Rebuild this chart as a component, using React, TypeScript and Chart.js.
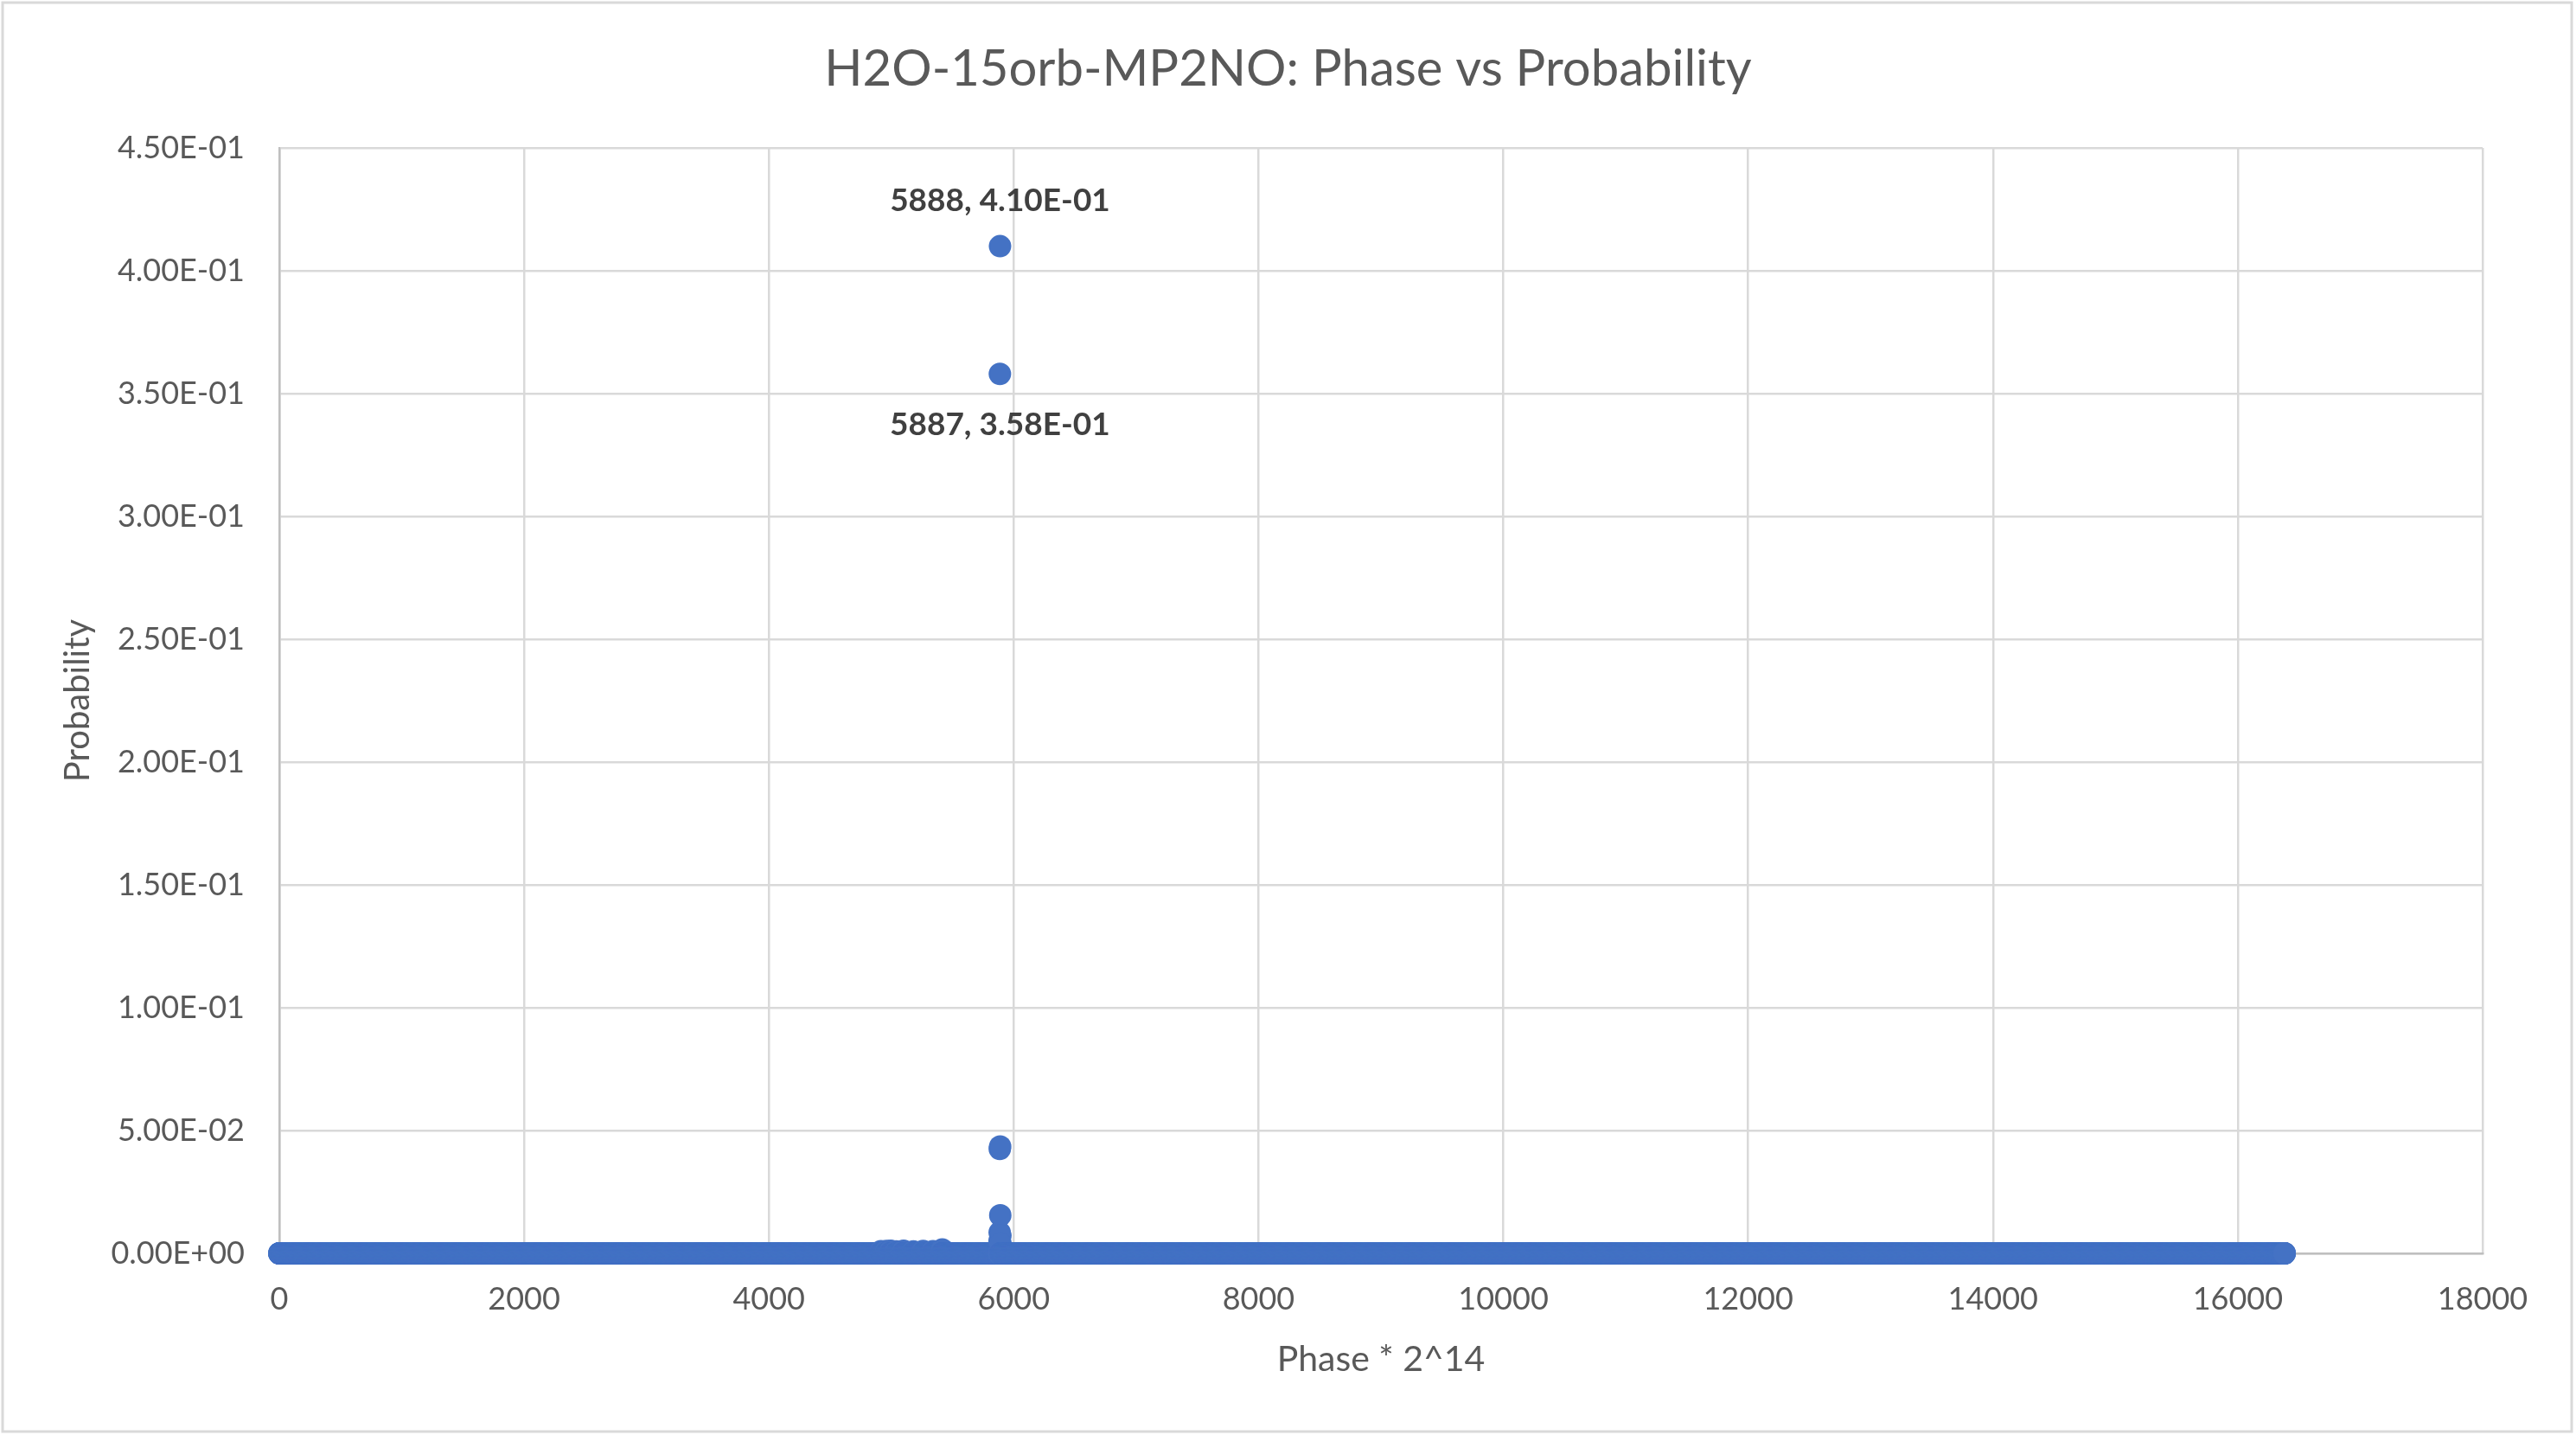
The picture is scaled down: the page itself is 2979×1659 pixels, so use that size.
import { useEffect, useRef } from 'react'
import { Chart, registerables, type Plugin } from 'chart.js'

Chart.register(...registerables)

const W = 2979
const H = 1659

// phase register is 14 bits -> phases 0 .. 2^14-1; every phase not listed below reads as ~0
const PHASE_BITS = 14
// notable phases and the probabilities
const PEAK_PHASES = [4915, 4960, 4995, 5040, 5100, 5180, 5260, 5340, 5416, 5884, 5885, 5886, 5887, 5888, 5889, 5890, 5891, 5892]
const PEAK_PROBS = [0.0009, 0.001, 0.0011, 0.0008, 0.0011, 0.0008, 0.001, 0.0009, 0.0016, 0.005, 0.0085, 0.0425, 0.358, 0.41, 0.0435, 0.0155, 0.0072, 0.004]
// the two points Excel labelled
const LABELLED = [5888, 5887]
const LABEL_SIDE = ['above', 'below']

const TITLE = 'H2O-15orb-MP2NO: Phase vs Probability'
const X_MAX = 18000
const X_STEP = 2000
const Y_MAX = 0.45
const Y_STEP = 0.05

const BLUE = '#4472C4'
const GRID = '#D9D9D9'
const TEXT = '#595959'

function sci(v: number) {
  if (Math.abs(v) < 1e-12) return '0.00E+00'
  const [m, e] = v.toExponential(2).split('e')
  const n = parseInt(e, 10)
  return `${m}E${n < 0 ? '-' : '+'}${String(Math.abs(n)).padStart(2, '0')}`
}

function buildPoints() {
  const lookup = new Map<number, number>()
  PEAK_PHASES.forEach((p, i) => lookup.set(p, PEAK_PROBS[i]))
  const n = 2 ** PHASE_BITS
  const pts: { x: number; y: number }[] = []
  for (let p = 0; p < n; p++) pts.push({ x: p, y: lookup.get(p) ?? 0 })
  return pts
}

// white background, outer chart border and the centred chart title
const frame: Plugin = {
  id: 'frame',
  beforeDraw(chart) {
    const { ctx } = chart
    ctx.save()
    ctx.fillStyle = '#fff'
    ctx.fillRect(0, 0, chart.width, chart.height)
    ctx.strokeStyle = GRID
    ctx.lineWidth = 3
    ctx.strokeRect(3, 3, chart.width - 8, chart.height - 7)
    ctx.font = '58px Lato'
    ctx.fillStyle = TEXT
    ctx.textAlign = 'center'
    ctx.textBaseline = 'middle'
    ctx.fillText(TITLE, chart.width / 2, 80)
    ctx.restore()
  },
}

const pointLabels: Plugin = {
  id: 'pointLabels',
  afterDatasetsDraw(chart) {
    const { ctx } = chart
    const meta = chart.getDatasetMeta(0)
    const data = chart.data.datasets[0].data as { x: number; y: number }[]
    ctx.save()
    ctx.font = 'bold 37px Lato'
    ctx.fillStyle = '#404040'
    ctx.textAlign = 'center'
    ctx.textBaseline = 'middle'
    LABELLED.forEach((phase, i) => {
      const el = meta.data[phase]
      const d = data[phase]
      const dy = LABEL_SIDE[i] === 'above' ? -53 : 59
      ctx.fillText(`${d.x}, ${sci(d.y)}`, el.x, el.y + dy)
    })
    ctx.restore()
  },
}

export default function App() {
  const canvasRef = useRef<HTMLCanvasElement>(null)

  useEffect(() => {
    document.body.style.margin = '0'
    if (!canvasRef.current) return
    Chart.defaults.font.family = 'Lato'
    const chart = new Chart(canvasRef.current, {
      type: 'scatter',
      data: {
        datasets: [{
          label: 'Probability',
          data: buildPoints(),
          backgroundColor: BLUE,
          borderColor: BLUE,
          borderWidth: 0,
          pointRadius: 13,
          pointHoverRadius: 13,
          clip: false,
        }],
      },
      options: {
        responsive: false,
        animation: false,
        devicePixelRatio: 1,
        events: [],
        layout: { padding: { left: 0, right: 108, top: 171, bottom: 0 } },
        plugins: {
          legend: { display: false },
          tooltip: { enabled: false },
          title: { display: false },
        },
        scales: {
          x: {
            type: 'linear',
            min: 0,
            max: X_MAX,
            afterFit: (s) => { s.height = H - 1449 },
            ticks: {
              stepSize: X_STEP,
              color: TEXT,
              font: { size: 36 },
              padding: 32,
              maxRotation: 0,
              callback: (v) => String(v),
            },
            grid: { color: GRID, lineWidth: 2.5, drawTicks: false },
            border: { color: '#BFBFBF', width: 2.5 },
            title: {
              display: true,
              text: 'Phase * 2^14',
              color: TEXT,
              font: { size: 41 },
              padding: { top: 0, bottom: 63 },
            },
          },
          y: {
            type: 'linear',
            min: 0,
            max: Y_MAX,
            afterFit: (s) => { s.width = 323 },
            ticks: {
              stepSize: Y_STEP,
              color: TEXT,
              font: { size: 36 },
              padding: 40,
              callback: (v) => sci(Number(v)),
            },
            grid: { color: GRID, lineWidth: 2.5, drawTicks: false },
            border: { color: '#BFBFBF', width: 2.5 },
            title: {
              display: true,
              text: 'Probability',
              color: TEXT,
              font: { size: 40 },
              padding: { top: 66, bottom: 0 },
            },
          },
        },
      },
      plugins: [frame, pointLabels],
    })
    return () => chart.destroy()
  }, [])

  return (
    <div style={{ width: W, height: H, position: 'relative' }}>
      <canvas ref={canvasRef} width={W} height={H} style={{ display: 'block' }} />
    </div>
  )
}
